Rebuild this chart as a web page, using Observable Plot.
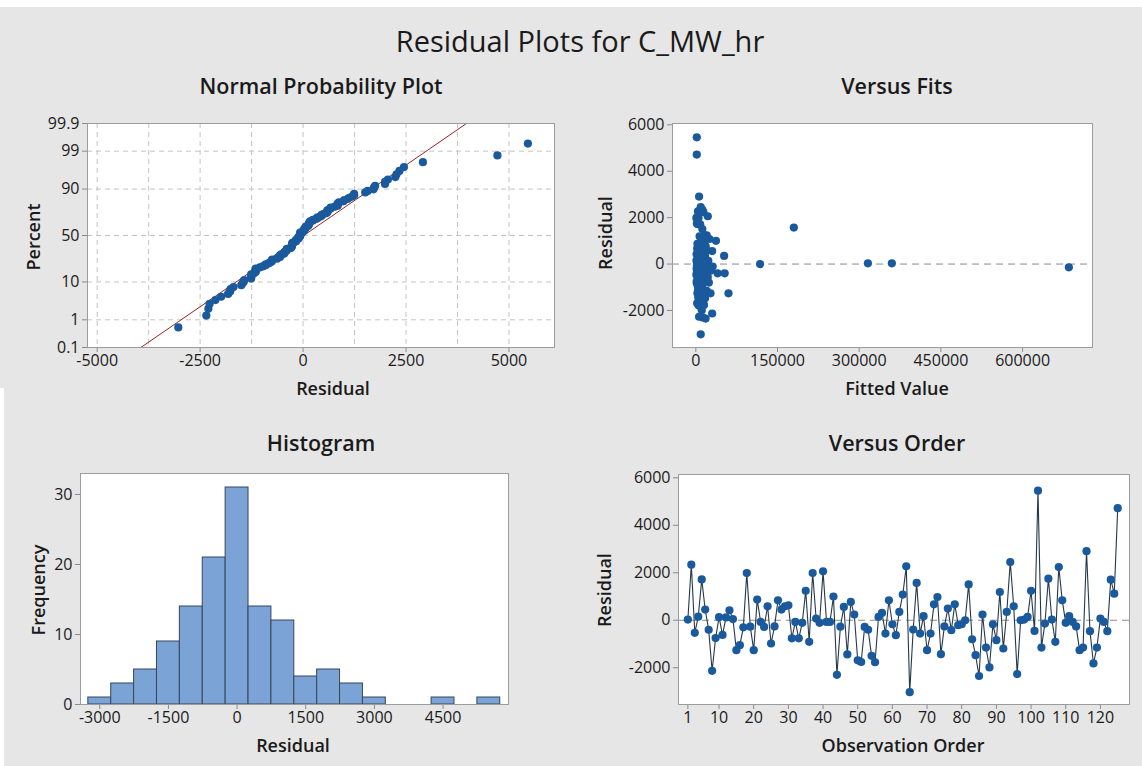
<!DOCTYPE html>
<html><head><meta charset="utf-8">
<script src="https://cdn.jsdelivr.net/npm/d3@7"></script>
<script src="https://cdn.jsdelivr.net/npm/@observablehq/plot@0.6"></script>
<style>
body{margin:0;background:#e6e6e6;}
#wrap{position:relative;width:1142px;height:766px;background:#e6e6e6;font-family:"Open Sans",sans-serif;color:#1a1a1a;overflow:hidden}
.t{position:absolute;white-space:nowrap;transform:translate(-50%,-50%);line-height:1;}
.main{font-size:29px;}
.pt{font-size:21.5px;font-weight:600;}
.ax{font-size:18px;font-weight:600;}
.rot{transform:translate(-50%,-50%) rotate(-90deg);}
.p{position:absolute;}
</style></head><body><div id="wrap"></div>
<script>
// Residuals in observation order (read from "Versus Order")
const residuals = [
  30, 2340, -530, 150, 1720, 450, -400, -2130, -750, 130,
  -620, 120, 420, 50, -1260, -1050, -300, 1990, -270, -1260,
  870, -70, -280, 590, -980, -260, 840, 450, 590, 630,
  -760, -70, -760, -110, 1240, -910, 1990, 70, -110, 2060,
  -70, -70, 1000, -2300, -270, 560, -1440, 770, 240, -1690,
  -1760, -280, -400, -1500, -1770, 140, 310, -560, 840, -170,
  -630, 350, 1080, 2270, -3030, -390, 1570, -560, 170, -1260,
  -560, 670, 980, -1430, -260, 490, -420, 670, -210, -170,
  0, 1510, -800, -1470, -2350, 240, -1150, -1990, -170, -840,
  1190, -1190, 350, 2450, 590, -2270, 0, 30, 140, 1240,
  -450, 5460, -1150, -140, 1750, 30, -910, 2240, 840, -110,
  170, -70, -260, -1260, -1150, 2910, -460, -1820, -1150, 70,
  -70, -460, 1710, 1120, 4720
];
// Fitted values, same order (estimated from "Versus Fits")
const fitted = [
  2500, 12000, 6000, 1200, 3500, 7000, 40000, 30000, 9000, 2000,
  14000, 4500, 1500, 8000, 3000, 11000, 19000, 5000, 2500, 6500,
  3000, 10000, 24000, 9000, 4000, 13000, 8000, 3000, 20000, 6000,
  1500, 16000, 7000, 3500, 16000, 12000, 1000, 5500, 21000, 22000,
  2000, 9500, 37000, 12500, 6000, 30000, 4500, 18000, 11500, 2500,
  15000, 28000, 53000, 8500, 5000, 13500, 8000, 3000, 12000, 26000,
  5000, 17000, 25000, 4000, 9000, 2000, 180000, 10500, 7500, 60000,
  22000, 2500, 15000, 13000, 4000, 14000, 6500, 11000, 1500, 18000,
  5000, 12000, 24000, 17000, 18000, 3500, 7000, 11000, 9000, 2000,
  7000, 14500, 52000, 9000, 4000, 6000, 118000, 316000, 23000, 20000,
  16000, 1800, 20000, 685000, 2000, 360000, 5500, 14000, 5000, 31000,
  3000, 12000, 8000, 27000, 10000, 6000, 1000, 8000, 4000, 15000,
  6500, 19000, 8000, 10000, 1800
];
// Histogram (read from "Histogram")
const histCenters = [-3000,-2500,-2000,-1500,-1000,-500,0,500,1000,1500,2000,2500,3000,3500,4000,4500,5000,5500];
const histCounts  = [1,3,5,9,14,21,31,14,12,4,5,3,1,0,0,1,0,1];
const binWidth = 500;
// Tick values
const pctTicks = [0.1,1,10,50,90,99,99.9];
const nppXTicks = [-5000,-2500,0,2500,5000];
const nppGridX = [-5000,-3750,-2500,-1250,0,1250,2500,3750,5000];
const fitsXTicks = [0,150000,300000,450000,600000];
const residTicks = [-2000,0,2000,4000,6000];
const histXTicks = [-3000,-1500,0,1500,3000,4500];
const freqTicks = [0,10,20,30];
const orderTicks = [1,10,20,30,40,50,60,70,80,90,100,110,120];

// inverse normal CDF (Acklam)
function probit(p){
  const a=[-3.969683028665376e+01,2.209460984245205e+02,-2.759285104469687e+02,1.383577518672690e+02,-3.066479806614716e+01,2.506628277459239e+00];
  const b=[-5.447609879822406e+01,1.615858368580409e+02,-1.556989798598866e+02,6.680131188771972e+01,-1.328068155288572e+01];
  const c=[-7.784894002430293e-03,-3.223964580411365e-01,-2.400758277161838e+00,-2.549732539343734e+00,4.374664141464968e+00,2.938163982698783e+00];
  const d=[7.784695709041462e-03,3.224671290700398e-01,2.445134137142996e+00,3.754408661907416e+00];
  const pl=0.02425, ph=1-pl; let q,r;
  if(p<pl){q=Math.sqrt(-2*Math.log(p));return (((((c[0]*q+c[1])*q+c[2])*q+c[3])*q+c[4])*q+c[5])/((((d[0]*q+d[1])*q+d[2])*q+d[3])*q+1);}
  if(p>ph){q=Math.sqrt(-2*Math.log(1-p));return -(((((c[0]*q+c[1])*q+c[2])*q+c[3])*q+c[4])*q+c[5])/((((d[0]*q+d[1])*q+d[2])*q+d[3])*q+1);}
  q=p-0.5;r=q*q;return (((((a[0]*r+a[1])*r+a[2])*r+a[3])*r+a[4])*r+a[5])*q/(((((b[0]*r+b[1])*r+b[2])*r+b[3])*r+b[4])*r+1);
}

const wrap = document.getElementById("wrap");
function addText(txt, x, y, cls){
  const d=document.createElement("div"); d.className="t "+cls; d.textContent=txt;
  d.style.left=x+"px"; d.style.top=y+"px"; wrap.appendChild(d);
}
function place(svg, left, top){ svg.classList.add("p"); svg.style.left=left+"px"; svg.style.top=top+"px"; wrap.appendChild(svg); }
function band(l,t,w,h){const d=document.createElement("div");d.style.cssText=`position:absolute;left:${l}px;top:${t}px;width:${w}px;height:${h}px;background:#fff`;wrap.appendChild(d);}

const baseStyle = {background:"transparent", fontFamily:"'Open Sans', sans-serif", fontSize:"16px", color:"#1a1a1a", overflow:"visible"};
const DOT = "#1a5a9c", FRAME="#9c9c9c", TICK="#8a8a8a";
const fmt = d => String(d);
const axX = (ticks, o={}) => Plot.axisX(ticks, {tickSize:5, tickPadding:2, label:null, tickFormat:fmt, stroke:TICK, fill:"#1a1a1a", ...o});
const axY = (ticks, o={}) => Plot.axisY(ticks, {tickSize:5, tickPadding:3, label:null, tickFormat:fmt, stroke:TICK, fill:"#1a1a1a", ...o});

// ---- Normal probability plot
const sorted = residuals.slice().sort((a,b)=>a-b);
const n = sorted.length;
const npp = sorted.map((r,i)=>({r, z: probit((i+1-0.3)/(n+0.4))}));
const mean = d3.mean(residuals), sd = d3.deviation(residuals);
const zTicks = pctTicks.map(p=>probit(p/100));
const zLo = zTicks[0], zHi = zTicks[zTicks.length-1];
const fitLine = [{r: mean+zLo*sd, z: zLo},{r: mean+zHi*sd, z: zHi}];
const zFmt = d => { const i = zTicks.findIndex(z=>Math.abs(z-d)<1e-9); return i>=0 ? String(pctTicks[i]) : ""; };

place(Plot.plot({
  width:575, height:300, marginLeft:87, marginRight:21, marginTop:23, marginBottom:53,
  style: baseStyle,
  x:{domain:[-5235,6106]}, y:{domain:[zLo,zHi]},
  marks:[
    Plot.frame({fill:"white", stroke:null}),
    Plot.gridX(nppGridX, {stroke:"#c4c4c4", strokeOpacity:1, strokeDasharray:"5,4"}),
    Plot.gridY(zTicks.slice(1,-1), {stroke:"#c4c4c4", strokeOpacity:1, strokeDasharray:"5,4"}),
    axX(nppXTicks),
    axY(zTicks, {tickFormat:zFmt}),
    Plot.line(fitLine, {x:"r", y:"z", stroke:"#9b2222", strokeWidth:1}),
    Plot.dot(npp, {x:"r", y:"z", r:4.1, fill:DOT, stroke:null}),
    Plot.frame({stroke:FRAME})
  ]
}), 0, 100);

// ---- Versus fits
const fits = residuals.map((r,i)=>({f:fitted[i], r}));
place(Plot.plot({
  width:567, height:300, marginLeft:97, marginRight:50, marginTop:23, marginBottom:53,
  style: baseStyle,
  x:{domain:[-42800,728400]}, y:{domain:[-3596,6057]},
  marks:[
    Plot.frame({fill:"white", stroke:null}),
    Plot.ruleY([0], {stroke:"#8c8c8c", strokeDasharray:"7,5"}),
    axX(fitsXTicks),
    axY(residTicks),
    Plot.dot(fits, {x:"f", y:"r", r:4.1, fill:DOT, stroke:null}),
    Plot.frame({stroke:FRAME})
  ]
}), 575, 100);

// ---- Histogram
const hist = histCenters.map((c,i)=>({x1:c-binWidth/2, x2:c+binWidth/2, y:histCounts[i]}));
place(Plot.plot({
  width:575, height:346, marginLeft:80, marginRight:67, marginTop:53, marginBottom:62,
  style: baseStyle,
  x:{domain:[-3421,5930]}, y:{domain:[0,33]},
  marks:[
    Plot.frame({fill:"white", stroke:null}),
    Plot.rectY(hist, {x1:"x1", x2:"x2", y:"y", fill:"#7ba3d6", stroke:"#37465a", strokeWidth:1, inset:0}),
    axX(histXTicks),
    axY(freqTicks),
    Plot.frame({stroke:FRAME})
  ]
}), 0, 420);

// ---- Versus order
const order = residuals.map((r,i)=>({i:i+1, r}));
place(Plot.plot({
  width:567, height:346, marginLeft:103, marginRight:13, marginTop:54, marginBottom:62,
  style: baseStyle,
  x:{domain:[-1.7,128.4]}, y:{domain:[-3550,6140]},
  marks:[
    Plot.frame({fill:"white", stroke:null}),
    Plot.ruleY([0], {stroke:"#8c8c8c", strokeDasharray:"7,5"}),
    axX(orderTicks),
    axY(residTicks),
    Plot.line(order, {x:"i", y:"r", stroke:"#24384d", strokeWidth:1.1}),
    Plot.dot(order, {x:"i", y:"r", r:4.1, fill:DOT, stroke:null}),
    Plot.frame({stroke:FRAME})
  ]
}), 575, 420);

// ---- Titles
band(0,0,1142,7);
band(0,388,4,378);
addText("Residual Plots for C_MW_hr", 580, 40, "main");
addText("Normal Probability Plot", 321, 86, "pt");
addText("Versus Fits", 897, 86, "pt");
addText("Histogram", 321, 443, "pt");
addText("Versus Order", 897, 443, "pt");
addText("Percent", 33, 237, "ax rot");
addText("Residual", 333, 388, "ax");
addText("Residual", 605, 233, "ax rot");
addText("Fitted Value", 897, 388, "ax");
addText("Frequency", 38, 590, "ax rot");
addText("Residual", 293, 745, "ax");
addText("Residual", 604, 590, "ax rot");
addText("Observation Order", 903, 745, "ax");
</script></body></html>
